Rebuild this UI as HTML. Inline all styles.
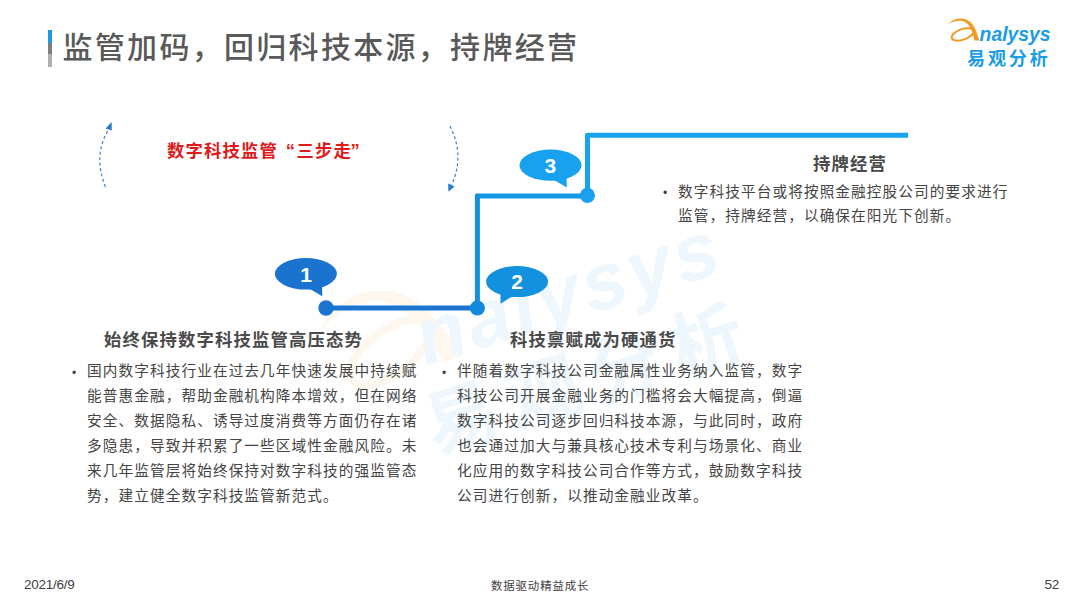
<!DOCTYPE html>
<html lang="zh-CN">
<head>
<meta charset="utf-8">
<title>监管加码，回归科技本源，持牌经营</title>
<style>
html,body{margin:0;padding:0;background:#fff;}
body{width:1080px;height:608px;position:relative;overflow:hidden;font-family:"Liberation Sans","Noto Sans CJK SC",sans-serif;color:#404040;}
.abs{position:absolute;white-space:nowrap;}
#bar{position:absolute;left:48px;top:30px;width:4px;height:37px;background:linear-gradient(#1a9be6 0,#1a9be6 34%,#7f7f7f 34%,#7f7f7f 64%,#b0b0b0 64%);}
#title{left:62.5px;top:25px;font-size:30px;letter-spacing:2.3px;line-height:46px;color:#595959;font-weight:500;}
#red{left:167px;top:138px;font-size:17.33px;letter-spacing:1.17px;line-height:26px;font-weight:bold;color:#e01a1a;}
#red span{display:inline-block;width:18.5px;letter-spacing:0;position:relative;left:-1.5px;font-size:18.5px;line-height:1;}
#red .ql{text-align:right;margin-left:0px;}
#red .qr{text-align:left;}
.h{font-size:17.33px;letter-spacing:1.17px;line-height:26px;font-weight:bold;color:#4a4a4a;}
.p{position:absolute;font-size:14.67px;letter-spacing:1.08px;line-height:24.9px;color:#444;margin:0;white-space:nowrap;}
.p i{position:absolute;left:-15.1px;top:1.3px;font-style:normal;font-size:12px;letter-spacing:0;line-height:24.9px;color:#404040;}
.f{font-size:11.4px;letter-spacing:0.9px;line-height:16px;color:#404040;}
.n{font-size:13.5px;letter-spacing:-0.25px;}
svg{position:absolute;left:0;top:0;}
</style>
</head>
<body>
<svg id="wm" width="1080" height="608" viewBox="0 0 1080 608" style="opacity:0.07">
  <g transform="translate(696 259) rotate(-17.5) scale(4.1) translate(-99.2 -21.6)">
    <g transform="translate(4.5 0.5)"><path d="M1.8 10.4 C6 5.6 12 4 17.2 4.8 C23 5.8 27 10 29.2 15 C31 19 32.2 23 33.4 26.6 L28.4 26.6 C27.6 22 26.6 18 24.6 14 C22.2 9.6 18.6 7 14.6 6.8 C10 6.6 5.6 8 1.8 10.4 Z" fill="#f19a22"/>
    <ellipse cx="16.6" cy="20.4" rx="11.4" ry="5.3" transform="rotate(-19 16.6 20.4)" fill="none" stroke="#f19a22" stroke-width="2"/></g>
    <text x="28.4" y="26.6" font-family="Liberation Sans, sans-serif" font-style="italic" font-weight="bold" font-size="19.5" fill="#1a9ce6" textLength="76.4" lengthAdjust="spacing">nalysys</text>
    <text x="24" y="48" font-family="Liberation Sans, Noto Sans CJK SC, sans-serif" font-weight="bold" font-size="18" letter-spacing="2.9" fill="#1a9ce6">易观分析</text>
  </g>
</svg>
<svg id="art" width="1080" height="608" viewBox="0 0 1080 608">
  <g fill="none" stroke-linejoin="round">
    <path d="M587.5 196 V135.2 H908.1" stroke="#19a3ee" stroke-width="5"/>
    <path d="M477.4 196 H587.5" stroke="#1599e7" stroke-width="5" stroke-linecap="round"/>
    <path d="M477.4 308 V196" stroke="#1390e0" stroke-width="5" stroke-linecap="round"/>
    <path d="M326 308 H477.4" stroke="#1a74d0" stroke-width="5"/>
  </g>
  <circle cx="326" cy="308" r="7.7" fill="#1a74d0"/>
  <circle cx="477.4" cy="308" r="7.6" fill="#1289da"/>
  <circle cx="587.4" cy="195.4" r="7.6" fill="#18a1ee"/>
  <g>
    <ellipse cx="305.9" cy="273.8" rx="31" ry="15.8" fill="#1a73cf"/>
    <path d="M309 288.5 L322.3 296.2 L322 283 Z" fill="#1a73cf"/>
    <ellipse cx="517.1" cy="281.6" rx="31" ry="15.5" fill="#1291de"/>
    <path d="M500.5 292 L500.5 303.8 L513 296 Z" fill="#1291de"/>
    <ellipse cx="550.5" cy="165.2" rx="31" ry="15.6" fill="#18a1ef"/>
    <path d="M554 180 L566.8 187.5 L566.6 176 Z" fill="#18a1ef"/>
  </g>
  <g font-family="Liberation Sans, sans-serif" font-weight="bold" font-size="21" fill="#fff" text-anchor="middle">
    <text x="306.2" y="281.6">1</text>
    <text x="517.2" y="289.2">2</text>
    <text x="550.4" y="172.8">3</text>
  </g>
  <g fill="none" stroke="#3a83cc" stroke-width="1.2" stroke-dasharray="3 2.5">
    <path d="M105.5 187 Q92.5 155 109 129"/>
    <path d="M450 126 Q465 156 451.5 185"/>
  </g>
  <path d="M111.6 122 L105.6 128.6 L111.8 130.6 Z" fill="#2a78c8"/>
  <path d="M448.4 191.8 L448.2 183.6 L454.6 186.4 Z" fill="#2a78c8"/>
</svg>

<div class="abs" id="bar"></div>
<div class="abs" id="title">监管加码，回归科技本源，持牌经营</div>

<div class="abs" id="logo" style="left:946px;top:14px;width:112px;height:60px;">
  <svg width="112" height="60" viewBox="0 0 112 60">
    <path d="M1.8 10.4 C6 5.6 12 4 17.2 4.8 C23 5.8 27 10 29.2 15 C31 19 32.2 23 33.4 26.6 L28.4 26.6 C27.6 22 26.6 18 24.6 14 C22.2 9.6 18.6 7 14.6 6.8 C10 6.6 5.6 8 1.8 10.4 Z" fill="#f19a22"/>
    <ellipse cx="16.6" cy="20.4" rx="11.4" ry="5.3" transform="rotate(-19 16.6 20.4)" fill="none" stroke="#f19a22" stroke-width="2"/>
    <text x="33.6" y="26.6" font-family="Liberation Sans, sans-serif" font-style="italic" font-weight="bold" font-size="19.5" fill="#1a9ce6" textLength="71" lengthAdjust="spacingAndGlyphs">nalysys</text>
    <text x="21" y="50.8" font-family="Liberation Sans, Noto Sans CJK SC, sans-serif" font-weight="bold" font-size="18" letter-spacing="2.9" fill="#1a9ce6">易观分析</text>
  </svg>
</div>

<div class="abs" id="red">数字科技监管<span class="ql">“</span>三步走<span class="qr">”</span></div>

<div class="abs h" style="left:104px;top:326.5px;">始终保持数字科技监管高压态势</div>
<div class="abs h" style="left:510px;top:326.5px;">科技禀赋成为硬通货</div>
<div class="abs h" style="left:813px;top:151px;">持牌经营</div>

<p class="p" style="left:87px;top:359.3px;"><i>•</i>国内数字科技行业在过去几年快速发展中持续赋<br>能普惠金融，帮助金融机构降本增效，但在网络<br>安全、数据隐私、诱导过度消费等方面仍存在诸<br>多隐患，导致并积累了一些区域性金融风险。未<br>来几年监管层将始终保持对数字科技的强监管态<br>势，建立健全数字科技监管新范式。</p>

<p class="p" style="left:457px;top:359.3px;"><i>•</i>伴随着数字科技公司金融属性业务纳入监管，数字<br>科技公司开展金融业务的门槛将会大幅提高，倒逼<br>数字科技公司逐步回归科技本源，与此同时，政府<br>也会通过加大与兼具核心技术专利与场景化、商业<br>化应用的数字科技公司合作等方式，鼓励数字科技<br>公司进行创新，以推动金融业改革。</p>

<p class="p" style="left:678px;top:179.5px;"><i>•</i>数字科技平台或将按照金融控股公司的要求进行<br>监管，持牌经营，以确保在阳光下创新。</p>

<div class="abs f n" style="left:24px;top:577.3px;">2021/6/9</div>
<div class="abs f" style="left:491px;top:578px;">数据驱动精益成长</div>
<div class="abs f n" style="left:1044.6px;top:577.3px;">52</div>
</body>
</html>
